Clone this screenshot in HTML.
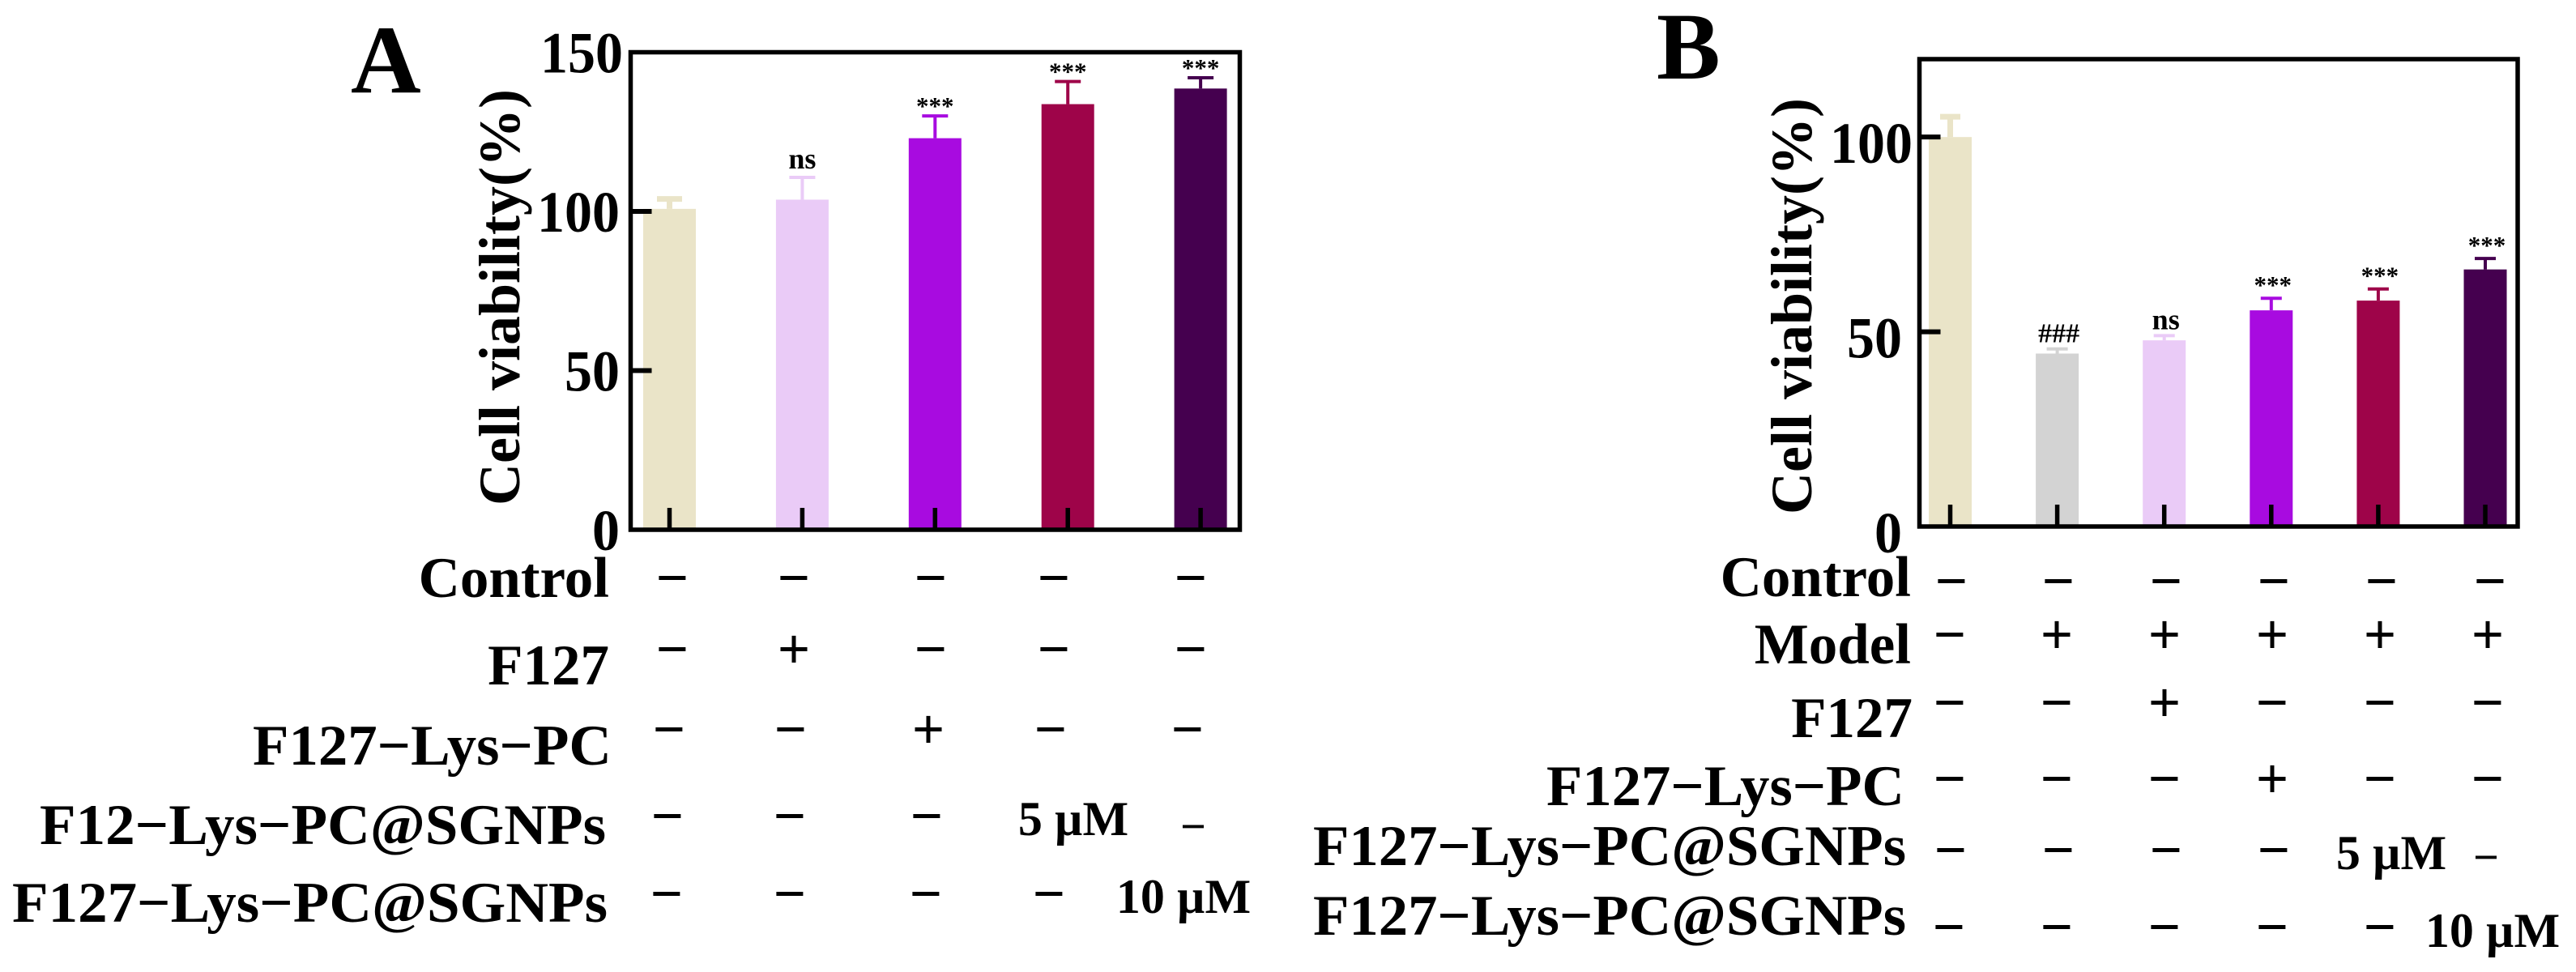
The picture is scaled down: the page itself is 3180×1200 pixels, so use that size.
<!DOCTYPE html>
<html lang="en">
<head>
<meta charset="utf-8">
<title>Cell viability bar charts</title>
<style>
html,body{margin:0;padding:0;background:#fff;width:3180px;height:1200px;overflow:hidden}
svg{display:block}
text{font-family:"Liberation Serif",serif;font-weight:bold;fill:#000}
.lab{font-size:71px;text-anchor:end}
.m{font-size:71px;text-anchor:middle}
.dose{font-size:60px;text-anchor:middle}
</style>
</head>
<body>
<svg id="figure" width="3180" height="1200" viewBox="0 0 3180 1200" xmlns="http://www.w3.org/2000/svg">
<rect width="3180" height="1200" fill="#fff"/>
<text x="433" y="114" font-size="120">A</text>
<text x="2045" y="97" font-size="118">B</text>
<g id="panelA"></g>
<g id="panelB"></g>

<g>
<text class="lab" x="752" y="737">Control</text>
<text class="lab" x="752" y="845">F127</text>
<text class="lab" x="755" y="944" textLength="443" lengthAdjust="spacingAndGlyphs">F127−Lys−PC</text>
<text class="lab" x="748" y="1042" textLength="699" lengthAdjust="spacingAndGlyphs">F12−Lys−PC@SGNPs</text>
<text class="lab" x="750" y="1138" textLength="735" lengthAdjust="spacingAndGlyphs">F127−Lys−PC@SGNPs</text>

<g>
<text class="m" x="830" y="737">−</text>
<text class="m" x="980" y="737">−</text>
<text class="m" x="1149" y="737">−</text>
<text class="m" x="1301" y="737">−</text>
<text class="m" x="1470" y="737">−</text>
</g>
<g>
<text class="m" x="830" y="825">−</text>
<text class="m" x="980" y="825">+</text>
<text class="m" x="1149" y="825">−</text>
<text class="m" x="1301" y="825">−</text>
<text class="m" x="1470" y="825">−</text>
</g>
<g>
<text class="m" x="826" y="924">−</text>
<text class="m" x="976" y="924">−</text>
<text class="m" x="1146" y="924">+</text>
<text class="m" x="1297" y="924">−</text>
<text class="m" x="1466" y="924">−</text>
</g>
<g>
<text class="m" x="824" y="1031">−</text>
<text class="m" x="975" y="1031">−</text>
<text class="m" x="1144" y="1031">−</text>
<text class="dose" x="1325" y="1031">5 µM</text>
<text class="m" x="1473" y="1039" style="font-size:56px">−</text>
</g>
<g>
<text class="m" x="823" y="1127">−</text>
<text class="m" x="975" y="1127">−</text>
<text class="m" x="1143" y="1127">−</text>
<text class="m" x="1295" y="1127">−</text>
<text class="dose" x="1461" y="1127">10 µM</text>
</g>
</g>

<g>
<text class="lab" x="2359" y="736">Control</text>
<text class="lab" x="2359" y="819">Model</text>
<text class="lab" x="2361" y="910">F127</text>
<text class="lab" x="2351" y="994" textLength="442" lengthAdjust="spacingAndGlyphs">F127−Lys−PC</text>
<text class="lab" x="2353" y="1068" textLength="732" lengthAdjust="spacingAndGlyphs">F127−Lys−PC@SGNPs</text>
<text class="lab" x="2353" y="1154" textLength="732" lengthAdjust="spacingAndGlyphs">F127−Lys−PC@SGNPs</text>

<g>
<text class="m" x="2409" y="741">−</text>
<text class="m" x="2541" y="741">−</text>
<text class="m" x="2674" y="741">−</text>
<text class="m" x="2807" y="741">−</text>
<text class="m" x="2940" y="741">−</text>
<text class="m" x="3074" y="741">−</text>
</g>
<g>
<text class="m" x="2407" y="807">−</text>
<text class="m" x="2539" y="807">+</text>
<text class="m" x="2672" y="807">+</text>
<text class="m" x="2805" y="807">+</text>
<text class="m" x="2938" y="807">+</text>
<text class="m" x="3071" y="807">+</text>
</g>
<g>
<text class="m" x="2407" y="891">−</text>
<text class="m" x="2539" y="891">−</text>
<text class="m" x="2672" y="891">+</text>
<text class="m" x="2805" y="891">−</text>
<text class="m" x="2938" y="891">−</text>
<text class="m" x="3071" y="891">−</text>
</g>
<g>
<text class="m" x="2407" y="985">−</text>
<text class="m" x="2539" y="985">−</text>
<text class="m" x="2672" y="985">−</text>
<text class="m" x="2805" y="985">+</text>
<text class="m" x="2938" y="985">−</text>
<text class="m" x="3071" y="985">−</text>
</g>
<g>
<text class="m" x="2408" y="1073">−</text>
<text class="m" x="2541" y="1073">−</text>
<text class="m" x="2674" y="1073">−</text>
<text class="m" x="2807" y="1073">−</text>
<text class="dose" x="2952" y="1073">5 µM</text>
<text class="m" x="3069" y="1077" style="font-size:56px">−</text>
</g>
<g>
<text class="m" x="2406" y="1168">−</text>
<text class="m" x="2539" y="1168">−</text>
<text class="m" x="2672" y="1168">−</text>
<text class="m" x="2805" y="1168">−</text>
<text class="m" x="2938" y="1168">−</text>
<text class="dose" x="3077" y="1169">10 µM</text>
</g>
</g>
</svg>
<script>
// Panel A data
const categoriesA = ['Control', 'F127', 'F127-Lys-PC', 'SGNPs 5 uM', 'SGNPs 10 uM'];
const valuesA = [100.8, 103.7, 123, 133.7, 138.6];
const errorsA = [3.1, 7, 7, 7.1, 3.4];
const sigLabelsA = ['', 'ns', '***', '***', '***'];
const yTicksA = [0, 50, 100, 150];

// Panel B data
const categoriesB = ['Control', 'Model', 'F127', 'F127-Lys-PC', 'SGNPs 5 uM', 'SGNPs 10 uM'];
const valuesB = [100, 44.4, 47.8, 55.5, 58, 66];
const errorsB = [5.2, 1.2, 1.2, 3.1, 3, 2.8];
const sigLabelsB = ['', '###', 'ns', '***', '***', '***'];
const yTicksB = [0, 50, 100];

const colorsA = ['#eae4c8', '#eacbf7', '#a80be0', '#9e0449', '#45004f'];
const colorsB = ['#eae4c8', '#d3d3d3', '#eacbf7', '#a80be0', '#9e0449', '#45004f'];

const NS = 'http://www.w3.org/2000/svg';
function make(parent, tag, attrs) {
  const el = document.createElementNS(NS, tag);
  for (const k in attrs) el.setAttribute(k, attrs[k]);
  parent.appendChild(el);
  return el;
}

function drawPanel(cfg) {
  const g = document.getElementById(cfg.id);
  const yScale = v => cfg.bottom - (v / cfg.yMax) * (cfg.bottom - cfg.top);
  const xScale = i => cfg.firstX + i * cfg.stepX;

  cfg.values.forEach((v, i) => {
    const x = xScale(i), top = yScale(v), errTop = yScale(v + cfg.errors[i]);
    const sw = i === 0 ? 7 : 4;
    const capW = i === 0 ? cfg.firstCap : cfg.cap;

    const stem = make(g, 'line', {x1: x, x2: x, y1: top, y2: errTop, stroke: cfg.colors[i], 'stroke-width': sw});
    
    

    const cap = make(g, 'line', {x1: x - capW / 2, x2: x + capW / 2, y1: errTop, y2: errTop, stroke: cfg.colors[i], 'stroke-width': sw});
    
    

    const bar = make(g, 'rect', {x: x - cfg.barW / 2, y: top, width: cfg.barW, height: cfg.bottom - top, fill: cfg.colors[i]});
    
    

    const tick = make(g, 'line', {x1: x, x2: x, y1: cfg.bottom, y2: cfg.bottom - 27, stroke: '#000', 'stroke-width': 5.5});
    
    

    const lab = cfg.sig[i];
    if (lab) {
      const t = make(g, 'text', {x: x + cfg.sigDx, y: errTop - (lab === '***' ? cfg.starGap : cfg.textGap), 'text-anchor': 'middle', 'font-size': lab === 'ns' ? 36 : (lab === '###' ? 34 : 31)});
      t.textContent = lab;
      
      
    }
  });

  cfg.ticks.forEach((tv) => {
    const y = yScale(tv);
    if (tv > 0 && tv < cfg.yMax) {
      const tk = make(g, 'line', {x1: cfg.left, x2: cfg.left + 26, y1: y, y2: y, stroke: '#000', 'stroke-width': 6});
      
      
    }
    const s = String(tv);
    const t = make(g, 'text', {x: cfg.labelX(tv), y: y + cfg.labelDy, 'text-anchor': 'end', 'font-size': 72, textLength: 34 * s.length, lengthAdjust: 'spacingAndGlyphs'});
    t.textContent = s;
    
    
  });

  const frame = make(g, 'rect', {x: cfg.left, y: cfg.top, width: cfg.right - cfg.left, height: cfg.bottom - cfg.top, fill: 'none', stroke: '#000', 'stroke-width': 5.5});
  
  

  const title = make(g, 'text', {transform: 'translate(' + cfg.titleX + ',' + cfg.titleY + ') rotate(-90)', 'text-anchor': 'middle', 'font-size': 72});
  title.textContent = 'Cell viability(%)';
  
  
}

drawPanel({
  id: 'panelA', cats: categoriesA, values: valuesA, errors: errorsA, sig: sigLabelsA, ticks: yTicksA, colors: colorsA,
  left: 778.5, right: 1530.5, top: 64.5, bottom: 654, yMax: 150,
  firstX: 826.5, stepX: 163.9, barW: 65, cap: 32, firstCap: 31,
  starGap: 2, textGap: 11, sigDx: 0,
  labelX: v => v === 150 ? 769 : 765, labelDy: 25,
  titleX: 641, titleY: 367
});
drawPanel({
  id: 'panelB', cats: categoriesB, values: valuesB, errors: errorsB, sig: sigLabelsB, ticks: yTicksB, colors: colorsB,
  left: 2369.5, right: 3108, top: 73, bottom: 650, yMax: 120,
  firstX: 2407.5, stepX: 132.1, barW: 53, cap: 26, firstCap: 25,
  starGap: 6, textGap: 8, sigDx: 2,
  labelX: v => v === 100 ? 2361 : 2348, labelDy: 32,
  titleX: 2236, titleY: 378
});
</script>
</body>
</html>
